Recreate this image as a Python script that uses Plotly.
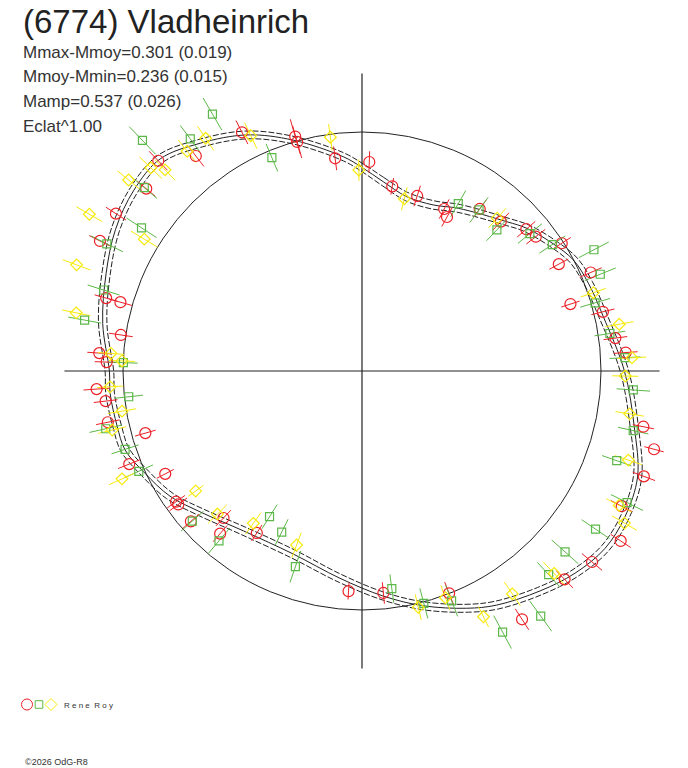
import numpy as np
import plotly.graph_objects as go

# ---- data: phase angle (deg, clockwise from top) and relative radius (mean circle = 1)
red_theta = [333.3, 344.1, 344.2, 352.8, 315.9, 322.3, 310.2, 302.6, 296.4, 285.9, 285.9, 278.5,
             273.9, 272.0, 2.0, 9.3, 17.5, 26.9, 28.9, 36.0, 42.9, 49.2, 52.3, 57.4, 61.5, 66.7,
             72.2, 76.2, 82.6, 86.0, 266.1, 263.3, 258.6, 254.0, 248.2, 242.4, 234.9, 234.0,
             228.7, 223.3, 221.1, 213.0, 183.5, 101.2, 105.0, 110.5, 117.5, 123.3, 129.7, 135.8,
             147.2, 158.6, 174.5]
red_r = [1.118, 1.020, 0.996, 0.897, 1.225, 1.137, 1.182, 1.222, 1.224, 1.113, 1.051, 1.020,
         1.102, 1.069, 0.875, 0.783, 0.768, 0.760, 0.736, 0.838, 0.853, 0.908, 0.919, 0.992,
         0.937, 1.042, 0.916, 1.038, 1.069, 1.106, 1.113, 1.080, 1.085, 0.943, 1.049, 0.929,
         0.951, 0.950, 0.953, 0.845, 0.903, 0.808, 0.923, 1.200, 1.265, 1.259, 1.225, 1.295,
         1.251, 1.216, 1.236, 0.999, 0.933]
red_err = [0.055, 0.075, 0.070, 0.050, 0.055, 0.055, 0.050, 0.050, 0.050, 0.050, 0.050, 0.050,
           0.050, 0.050, 0.045, 0.035, 0.045, 0.045, 0.045, 0.045, 0.050, 0.050, 0.050, 0.045,
           0.045, 0.050, 0.040, 0.050, 0.050, 0.050, 0.055, 0.050, 0.050, 0.045, 0.050, 0.040,
           0.045, 0.045, 0.045, 0.045, 0.045, 0.040, 0.035, 0.045, 0.042, 0.050, 0.050, 0.050,
           0.055, 0.050, 0.052, 0.050, 0.045]

green_theta = [329.8, 316.4, 323.5, 337.1, 310.1, 303.0, 296.5, 287.4, 280.4, 272.0, 29.9, 36.0,
               43.7, 50.7, 56.4, 62.4, 67.9, 73.7, 81.4, 87.1, 263.7, 257.3, 251.7, 245.8, 228.5,
               220.1, 212.4, 206.5, 198.8, 94.0, 102.4, 109.4, 116.4, 124.1, 131.7, 137.5, 143.9,
               151.7, 158.7, 165.1, 172.2]
green_r = [1.244, 1.332, 1.208, 0.969, 1.191, 1.100, 1.193, 1.133, 1.180, 0.999, 0.808, 0.833,
           0.817, 0.908, 0.956, 1.095, 1.076, 1.016, 1.049, 1.102, 0.982, 1.099, 1.044, 1.024,
           0.948, 0.929, 0.722, 0.753, 0.865, 1.138, 1.162, 1.130, 1.238, 1.180, 1.138, 1.156,
           1.269, 1.241, 1.032, 1.006, 0.919]
green_err = [0.078, 0.080, 0.070, 0.063, 0.070, 0.075, 0.075, 0.070, 0.070, 0.060, 0.063, 0.065,
             0.063, 0.065, 0.065, 0.070, 0.070, 0.065, 0.065, 0.065, 0.060, 0.070, 0.060, 0.065,
             0.063, 0.070, 0.060, 0.060, 0.070, 0.070, 0.065, 0.065, 0.075, 0.070, 0.075, 0.070,
             0.078, 0.078, 0.070, 0.065, 0.060]

yellow_theta = [334.7, 352.3, 359.1, 326.1, 321.5, 313.9, 315.6, 309.3, 299.9, 301.2, 290.4, 281.5,
                274.0, 272.4, 13.8, 41.5, 71.3, 79.7, 87.2, 91.1, 266.4, 260.5, 256.7, 245.8,
                234.2, 225.3, 215.5, 200.6, 99.1, 108.5, 117.6, 120.1, 136.5, 146.0, 153.7, 159.8,
                166.6]
yellow_r = [1.089, 0.987, 0.841, 1.173, 1.175, 1.226, 1.178, 1.262, 1.316, 1.065, 1.274, 1.220,
            1.053, 1.005, 0.742, 0.854, 1.022, 1.094, 1.131, 1.102, 1.056, 1.018, 1.074, 1.101,
            0.858, 0.851, 0.783, 0.778, 1.134, 1.175, 1.214, 1.269, 1.168, 1.125, 1.147, 1.011,
            1.016]
yellow_err = [0.060, 0.056, 0.045, 0.060, 0.060, 0.065, 0.060, 0.060, 0.062, 0.065, 0.062, 0.060,
              0.055, 0.055, 0.050, 0.055, 0.055, 0.060, 0.060, 0.055, 0.055, 0.060, 0.060, 0.060,
              0.040, 0.055, 0.055, 0.055, 0.060, 0.060, 0.060, 0.060, 0.068, 0.060, 0.048, 0.055,
              0.055]

# fitted lightcurve (solid) and its uncertainty envelope (dashed)
fit_theta = [0.0, 6.4, 14.4, 23.2, 30.6, 44.1, 49.1, 56.4, 62.3, 68.8, 77.3, 90.0, 101.6, 111.0,
             119.0, 126.1, 133.5, 141.0, 150.1, 156.2, 165.4, 174.6, 186.1, 200.6, 216.6, 229.0,
             236.9, 244.8, 251.6, 257.2, 264.9, 270.0, 280.4, 290.9, 299.8, 308.4, 316.4, 324.6,
             334.0, 343.4, 355.0]
fit_r = [0.852, 0.797, 0.753, 0.756, 0.791, 0.870, 0.912, 0.961, 0.999, 1.016, 1.035, 1.098,
         1.163, 1.235, 1.258, 1.259, 1.229, 1.184, 1.130, 1.085, 1.015, 0.946, 0.872, 0.818,
         0.833, 0.898, 0.959, 1.004, 1.045, 1.050, 1.058, 1.057, 1.103, 1.146, 1.189, 1.218,
         1.225, 1.169, 1.099, 1.008, 0.900]
fit_sigma = 0.018

title = "(6774) Vladheinrich"
info_lines = ["Mmax-Mmoy=0.301 (0.019)", "Mmoy-Mmin=0.236 (0.015)", "Mamp=0.537 (0.026)", "Eclat^1.00"]
observer = "R e n e  R o y"
credit = "\u00a92026 OdG-R8"

RED = "#ec2027"
GREEN = "#5cb848"
YELLOW = "#f7ea0c"
INK = "#222222"

W, H = 688, 768
CX, CY, SCALE = 362, 371, 239.0  # pixel centre and pixels per unit


def xy(theta, r):
    t = np.radians(np.asarray(theta, float))
    r = np.asarray(r, float)
    return r * np.sin(t), r * np.cos(t)


def err_segments(theta, r, e):
    xs, ys = [], []
    for t, rr, ee in zip(theta, r, e):
        x0, y0 = xy(t, rr - ee)
        x1, y1 = xy(t, rr + ee)
        xs += [float(x0), float(x1), None]
        ys += [float(y0), float(y1), None]
    return xs, ys


fig = go.Figure()

# fitted curve and envelope
for off, dash in [(fit_sigma, "6px,2px"), (-fit_sigma, "6px,2px"), (0.0, "solid")]:
    th = list(fit_theta) + [fit_theta[0] + 360]
    rr = [v + off for v in fit_r] + [fit_r[0] + off]
    fx, fy = xy(th, rr)
    fig.add_trace(go.Scatter(x=fx, y=fy, mode="lines", line=dict(color=INK, width=1, dash=dash, shape="spline", smoothing=1.0),
                             hoverinfo="skip", showlegend=False))

series = [
    (red_theta, red_r, red_err, RED, "circle-open", 11),
    (green_theta, green_r, green_err, GREEN, "square-open", 8),
    (yellow_theta, yellow_r, yellow_err, YELLOW, "diamond-open", 9),
]
for th, rr, ee, col, sym, sz in series:
    ex, ey = err_segments(th, rr, ee)
    fig.add_trace(go.Scatter(x=ex, y=ey, mode="lines", line=dict(color=col, width=1),
                             hoverinfo="skip", showlegend=False))
for th, rr, ee, col, sym, sz in series:
    px_, py_ = xy(th, rr)
    fig.add_trace(go.Scatter(x=px_, y=py_, mode="markers",
                             marker=dict(symbol=sym, size=sz, color=col, line=dict(color=col, width=1.2)),
                             showlegend=False))

# axes cross and mean circle
AX = 1.245
fig.add_shape(type="line", x0=-AX, x1=AX, y0=0, y1=0, line=dict(color=INK, width=1.2), layer="below")
fig.add_shape(type="line", x0=0, x1=0, y0=-AX, y1=AX, line=dict(color=INK, width=1.2), layer="below")
fig.add_shape(type="circle", x0=-1, x1=1, y0=-1, y1=1, line=dict(color=INK, width=1), layer="below")

# texts (paper coords, pixel based)
def pxp(x, y):
    return x / W, 1 - y / H

tx, ty = pxp(21, 21.5)
fig.add_annotation(x=tx, y=ty, xref="paper", yref="paper", text=title, showarrow=False,
                   xanchor="left", yanchor="middle", font=dict(family="Liberation Sans, Arial", size=33, color=INK))
for i, line in enumerate(info_lines):
    tx, ty = pxp(21, 52 + 24.7 * i)
    fig.add_annotation(x=tx, y=ty, xref="paper", yref="paper", text=line, showarrow=False,
                       xanchor="left", yanchor="middle", font=dict(family="Liberation Sans, Arial", size=17, color="#333333"))

# legend key
lx, ly = pxp(62, 705)
fig.add_annotation(x=lx, y=ly, xref="paper", yref="paper", text=observer, showarrow=False,
                   xanchor="left", yanchor="middle", font=dict(family="Liberation Sans, Arial", size=8, color="#333333"))
cx_, cy_ = pxp(27, 704.5)
fig.add_shape(type="circle", xref="paper", yref="paper", x0=cx_ - 5.5 / W, x1=cx_ + 5.5 / W, y0=cy_ - 5.5 / H, y1=cy_ + 5.5 / H,
              line=dict(color=RED, width=1))
sx_, sy_ = pxp(39, 704.5)
fig.add_shape(type="rect", xref="paper", yref="paper", x0=sx_ - 3.8 / W, x1=sx_ + 3.8 / W, y0=sy_ - 3.8 / H, y1=sy_ + 3.8 / H,
              line=dict(color=GREEN, width=1))
dx_, dy_ = pxp(51, 704.5)
fig.add_shape(type="path", xref="paper", yref="paper",
              path=f"M {dx_ - 6/W} {dy_} L {dx_} {dy_ + 6/H} L {dx_ + 6/W} {dy_} L {dx_} {dy_ - 6/H} Z",
              line=dict(color=YELLOW, width=1))
cx2, cy2 = pxp(23, 762)
fig.add_annotation(x=cx2, y=cy2, xref="paper", yref="paper", text=credit, showarrow=False,
                   xanchor="left", yanchor="middle", font=dict(family="Liberation Sans Narrow, Liberation Sans, Arial", size=9, color="#333333"))

fig.update_layout(
    width=W, height=H, margin=dict(l=0, r=0, t=0, b=0),
    paper_bgcolor="white", plot_bgcolor="white",
    xaxis=dict(range=[(0 - CX) / SCALE, (W - CX) / SCALE], visible=False, fixedrange=True),
    yaxis=dict(range=[(CY - H) / SCALE, CY / SCALE], visible=False, fixedrange=True),
    showlegend=False,
)

fig.write_html("out.html", config={"displayModeBar": False}, post_script="document.body.style.margin='0';")
